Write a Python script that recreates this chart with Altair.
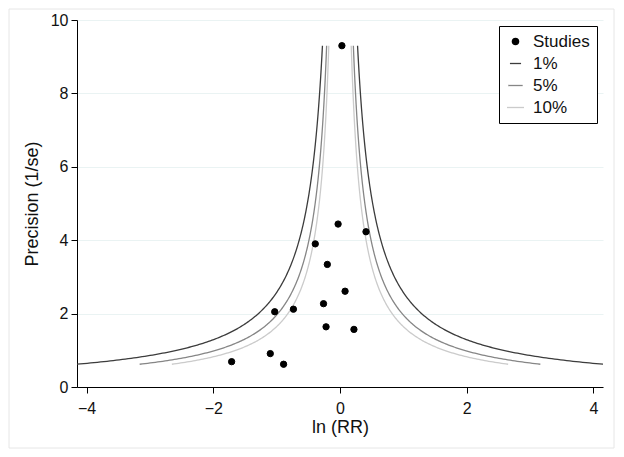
import altair as alt
import numpy as np
import pandas as pd

# Studies (ln RR, precision = 1/se)
study_lnrr = [0.03, -0.03, 0.41, -0.39, -0.20, 0.08, -0.26, -0.22, 0.22, -1.03, -0.735, -1.71, -1.10, -0.89]
study_prec = [9.30, 4.44, 4.23, 3.90, 3.34, 2.61, 2.27, 1.64, 1.57, 2.05, 2.12, 0.69, 0.91, 0.62]

# Significance contours
contour_labels = ["1%", "5%", "10%"]
contour_z = [2.576, 1.960, 1.645]

series_domain = ["Studies", "1%", "5%", "10%"]
series_colors = ["#000000", "#3c3c3c", "#868686", "#cbcbcb"]
series_shapes = ["circle", "stroke", "stroke", "stroke"]
series_sizes = [40, 290, 290, 290]

x_ticks = [-4, -2, 0, 2, 4]
y_ticks = [0, 2, 4, 6, 8, 10]

studies = pd.DataFrame({"lnrr": study_lnrr, "prec": study_prec, "series": "Studies"})

pmin, pmax = min(study_prec), max(study_prec)
prec_grid = np.geomspace(pmin, pmax, 200)
rows = []
for lab, z in zip(contour_labels, contour_z):
    for side, sgn in (("L", -1), ("R", 1)):
        for p in prec_grid:
            rows.append({"lnrr": sgn * z / p, "prec": p, "series": lab, "branch": lab + side})
contours = pd.DataFrame(rows)

FONT = "Liberation Sans"

x_enc = alt.X("lnrr:Q", scale=alt.Scale(domain=[-4.15, 4.15], nice=False, zero=False),
              axis=alt.Axis(values=x_ticks, title="ln (RR)", grid=False, labelPadding=7,
                            titlePadding=2))
y_enc = alt.Y("prec:Q", scale=alt.Scale(domain=[0, 10], nice=False),
              axis=alt.Axis(values=y_ticks, title="Precision (1/se)", grid=True,
                            labelPadding=3, titlePadding=9))

leg = alt.Legend(title=None, orient="none", legendX=422, legendY=6)

stroke_scale = alt.Scale(domain=series_domain, range=series_colors)

lines = alt.Chart(contours).mark_line(strokeWidth=1.3, clip=True).encode(
    x=x_enc, y=y_enc,
    stroke=alt.Stroke("series:N", scale=stroke_scale, legend=leg),
    detail="branch:N",
)

points = alt.Chart(studies).mark_point(filled=True, opacity=1, strokeWidth=1).encode(
    x=x_enc, y=y_enc,
    fill=alt.Fill("series:N", scale=alt.Scale(domain=series_domain, range=series_colors), legend=leg),
    stroke=alt.Stroke("series:N", scale=stroke_scale, legend=leg),
    shape=alt.Shape("series:N", scale=alt.Scale(domain=series_domain, range=series_shapes), legend=leg),
    size=alt.Size("series:N", scale=alt.Scale(domain=series_domain, range=series_sizes), legend=leg),
)

frame = alt.Chart(pd.DataFrame({"a": [0]})).mark_rect(
    fill="transparent", stroke="#e6e6e6", strokeWidth=1
).encode(
    x=alt.value(-68), x2=alt.value(537), y=alt.value(-11), y2=alt.value(428)
)

chart = alt.layer(frame, lines, points).resolve_scale(
    stroke="shared"
).properties(
    width=526, height=367,
    autosize=alt.AutoSizeParams(type="none"),
    padding={"left": 69, "top": 12, "right": 13, "bottom": 62},
    background="#ffffff",
).configure_view(stroke=None).configure_axis(
    labelFont=FONT, titleFont=FONT, labelFontSize=16, titleFontSize=18,
    titleFontWeight="normal", labelColor="#111111", titleColor="#111111",
    domainColor="#000000", tickColor="#000000", tickSize=6, domainWidth=1,
    gridColor="#eaf3f3", gridWidth=1,
).configure_legend(
    labelFont=FONT, labelFontSize=17, labelColor="#111111",
    strokeColor="#000000", fillColor="#ffffff", padding=7, cornerRadius=0,
    rowPadding=4, labelOffset=8, symbolStrokeWidth=1.3,
)

chart.save("out.html", embed_options={"renderer": "svg", "actions": False})
